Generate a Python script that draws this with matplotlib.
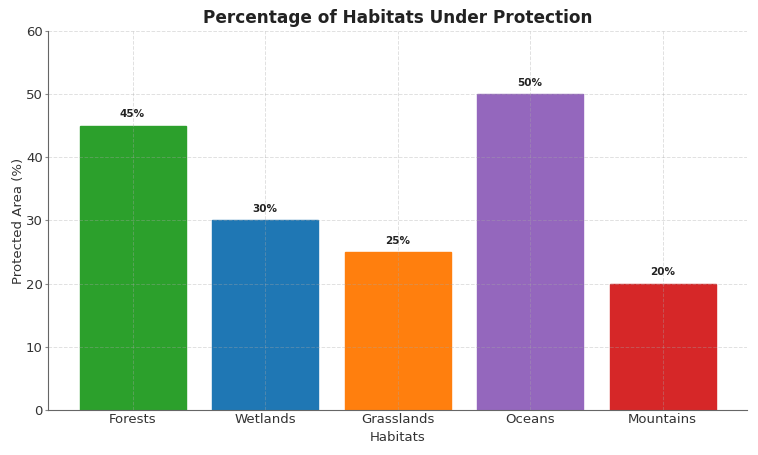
import matplotlib
matplotlib.use("Agg")
import matplotlib.pyplot as plt

habitats = ["Forests", "Wetlands", "Grasslands", "Oceans", "Mountains"]
protected = [45, 30, 25, 50, 20]
colors = ["#2ca02c", "#1f77b4", "#ff7f0e", "#9467bd", "#d62728"]

fig, ax = plt.subplots(figsize=(7.58, 4.55), dpi=100)
fig.subplots_adjust(left=0.063, right=0.986, top=0.932, bottom=0.099)

bars = ax.bar(habitats, protected, color=colors, edgecolor=colors, linewidth=1,
              width=0.8, zorder=2)
for b, v in zip(bars, protected):
    ax.text(b.get_x() + b.get_width() / 2, v + 1, f"{v}%", ha="center", va="bottom",
            fontsize=7.5, fontweight="bold", color="#222222")

ax.set_ylim(0, 60)
ax.set_yticks(range(0, 61, 10))
ax.grid(True, linestyle="--", color="#a8a8a8", alpha=0.35, linewidth=0.7, zorder=3)
ax.set_axisbelow(False)
for s in ["top", "right"]:
    ax.spines[s].set_visible(False)
for s in ["left", "bottom"]:
    ax.spines[s].set_color("#666666")
    ax.spines[s].set_zorder(4)
ax.tick_params(axis="y", colors="#333333", labelsize=9.5, length=2, pad=1.5, color="#888888")
ax.tick_params(axis="x", colors="#333333", labelsize=9.5, length=0, pad=2)
ax.set_xlabel("Habitats", fontsize=9.5, color="#333333", labelpad=4)
ax.set_ylabel("Protected Area (%)", fontsize=9.5, color="#333333", labelpad=1)
ax.set_title("Percentage of Habitats Under Protection", fontsize=12.2, fontweight="bold",
             color="#222222", pad=6)

fig.savefig("out.png", dpi=100)
